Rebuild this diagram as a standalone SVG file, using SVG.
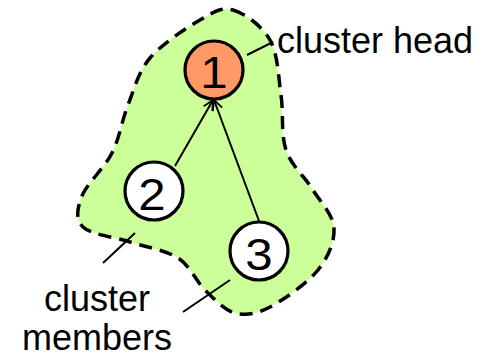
<svg xmlns="http://www.w3.org/2000/svg" width="489" height="358" viewBox="0 0 489 358">
<defs>
<style>
.blob{fill:#ccff99;stroke:#000;stroke-width:3.5;stroke-dasharray:13 8}
.node{stroke:#000;stroke-width:3.2}
.num{font-family:"Liberation Sans",Arial,sans-serif;font-size:44px;text-anchor:middle;fill:#000}
.lbl{font-family:"Liberation Sans",Arial,sans-serif;font-size:36px;fill:#000}
.edge{stroke:#000;stroke-width:2;fill:none;marker-end:url(#arr)}
.lead{stroke:#000;stroke-width:2;fill:none}
</style>
<marker id="arr" viewBox="0 0 12 12" refX="11" refY="6" markerWidth="12" markerHeight="12" markerUnits="userSpaceOnUse" orient="auto">
<path d="M1,1 L11,6 L1,11" fill="none" stroke="#000" stroke-width="1.8"/>
</marker>
</defs>
<g id="cluster">
<path class="blob" d="M233,10 C244.7,13.3 262,25.8 270,40 C278,54.2 278.3,76.7 281,95 C283.7,113.3 280.7,134.2 286,150 C291.3,165.8 305,177 313,190 C321,203 333.2,214.7 334,228 C334.8,241.3 328.7,256.8 318,270 C307.3,283.2 283.8,299.8 270,307 C256.2,314.2 245.8,315.8 235,313 C224.2,310.2 214.5,299.2 205,290 C195.5,280.8 190.5,266 178,258 C165.5,250 145.8,247.2 130,242 C114.2,236.8 91,234.7 83,227 C75,219.3 77.2,208.3 82,196 C86.8,183.7 104.3,168.2 112,153 C119.7,137.8 121.7,120.8 128,105 C134.3,89.2 138,72.2 150,58 C162,43.8 186.2,28 200,20 C213.8,12 221.3,6.7 233,10 Z"/>
</g>
<g id="connectors">
<line class="edge" x1="175" y1="166" x2="213" y2="100"/>
<line class="edge" x1="259" y1="221" x2="214" y2="100"/>
<line class="lead" x1="247" y1="55" x2="273" y2="42"/>
<line class="lead" x1="135" y1="233" x2="103" y2="263"/>
<line class="lead" x1="230" y1="280" x2="183" y2="312"/>
</g>
<g id="node1">
<circle class="node" cx="214" cy="70" r="29" fill="#ff9966"/>
<text class="num" transform="translate(214,88) scale(1.12,1)">1</text>
</g>
<g id="node2">
<circle class="node" cx="154" cy="191" r="29" fill="#fff"/>
<text class="num" transform="translate(152,210) scale(1.12,1)">2</text>
</g>
<g id="node3">
<circle class="node" cx="259" cy="251" r="29" fill="#fff"/>
<text class="num" transform="translate(259,270) scale(1.12,1)">3</text>
</g>
<g id="label-head">
<text class="lbl" x="277" y="53">cluster head</text>
</g>
<g id="label-members">
<text class="lbl" x="97" y="311" text-anchor="middle">cluster</text>
<text class="lbl" x="97" y="350" text-anchor="middle">members</text>
</g>
</svg>
